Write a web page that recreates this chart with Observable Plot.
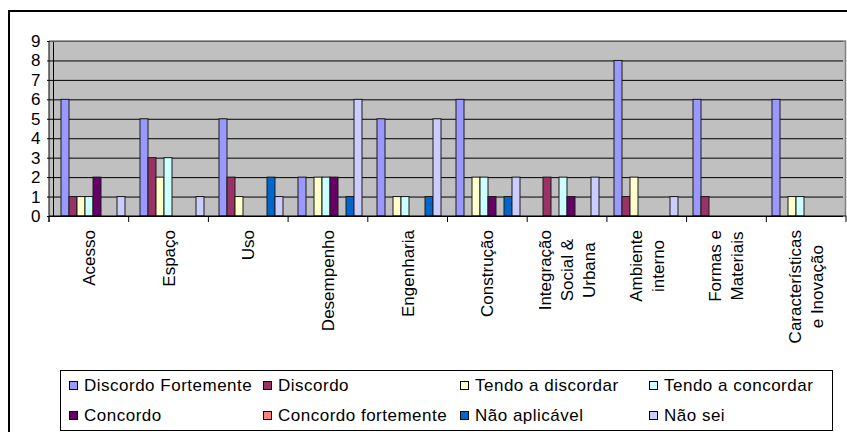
<!DOCTYPE html>
<html><head><meta charset="utf-8">
<script src="https://cdn.jsdelivr.net/npm/d3@7"></script>
<script src="https://cdn.jsdelivr.net/npm/@observablehq/plot@0.6"></script>
<style>
body{margin:0;background:#fff;}
#wrap{position:relative;width:847px;height:432px;overflow:hidden;background:#fff;font-family:"Liberation Sans",Arial,sans-serif;}
#frame{position:absolute;left:8px;top:10px;width:900px;height:500px;border:2px solid #000;box-sizing:border-box;}
#chart{position:absolute;left:0;top:0;}
#legend{position:absolute;left:60px;top:370px;width:773px;height:61px;border:1px solid #000;box-sizing:border-box;background:#fff;}
.item{position:absolute;font-size:17px;line-height:20px;letter-spacing:0.5px;white-space:nowrap;color:#000;}
.sw{display:inline-block;width:7px;height:7px;border:1px solid #000;margin-right:6px;vertical-align:1px;}
</style>
</head><body>
<div id="wrap"><div id="frame"></div><div id="chart"></div><div id="legend"></div></div>
<script>
const categories = ["Acesso","Espaço","Uso","Desempenho","Engenharia","Construção","Integração\nSocial &\nUrbana","Ambiente\ninterno","Formas e\nMateriais","Características\ne Inovação"];
const series = ["Discordo Fortemente","Discordo","Tendo a discordar","Tendo a concordar","Concordo","Concordo fortemente","Não aplicável","Não sei"];
const discordoFortemente  = [6,5,5,2,5,6,0,8,6,6];
const discordo            = [1,3,2,0,0,0,2,1,1,0];
const tendoADiscordar     = [1,2,1,2,1,2,0,2,0,1];
const tendoAConcordar     = [1,3,0,2,1,2,2,0,0,1];
const concordo            = [2,0,0,2,0,1,1,0,0,0];
const concordoFortemente  = [0,0,0,0,0,0,0,0,0,0];
const naoAplicavel        = [0,0,2,1,1,1,0,0,0,0];
const naoSei              = [1,1,1,6,5,2,2,1,0,0];
const yTicks = [0,1,2,3,4,5,6,7,8,9];
const colors = ["#9999FF","#993366","#FFFFCC","#CCFFFF","#660066","#FF8080","#0066CC","#CCCCFF"];

const seriesValues = [discordoFortemente,discordo,tendoADiscordar,tendoAConcordar,concordo,concordoFortemente,naoAplicavel,naoSei];
const rows = [];
categories.forEach((c,i)=>series.forEach((s,j)=>rows.push({category:c, series:s, value:seriesValues[j][i]})));

const W = 847, H = 365, AXIS_Y = 216;
const chart = Plot.plot({
  width: W, height: H,
  marginLeft: 49, marginRight: 1, marginTop: 41, marginBottom: H - AXIS_Y,
  style: {fontFamily: "Liberation Sans, Arial, sans-serif", fontSize: "17px", color: "#000", background: "transparent", overflow: "visible"},
  fx: {domain: categories, paddingInner: 0, paddingOuter: 0, axis: null, label: null},
  x: {domain: series, paddingInner: 0, paddingOuter: 0.8, axis: null},
  y: {domain: [0, 9], ticks: yTicks, tickSize: 6, tickPadding: 7, label: null, line: true},
  color: {domain: series, range: colors},
  marks: [
    Plot.ruleY(yTicks, {stroke: "#000", strokeWidth: 1}),
    Plot.barY(rows.filter(d => d.value > 0), {fx: "category", x: "series", y: "value", fill: "series", stroke: "#1a1a1a", strokeWidth: 1})
  ]
});
document.getElementById("chart").appendChild(chart);

// scales from the plot
const fxD = chart.scale("fx"), yD = chart.scale("y");
const fx = d3.scaleBand().domain(fxD.domain).range(fxD.range).paddingInner(fxD.paddingInner ?? 0).paddingOuter(fxD.paddingOuter ?? 0).align(fxD.align ?? 0.5);
const y = d3.scaleLinear().domain(yD.domain).range(yD.range);
const svg = d3.select(chart);
const x0 = fx.range()[0], x1 = fx.range()[1], yTop = y(9), yBot = y(0);

// plot-area background
svg.insert("rect", ":first-child").attr("x", x0).attr("y", yTop).attr("width", x1 - x0).attr("height", yBot - yTop).attr("fill", "#C0C0C0");
// plot-area border (top & right)
svg.append("path").attr("d", `M${x0},${yTop}H${x1 - 0.5}V${yBot}`).attr("fill", "none").attr("stroke", "#808080").attr("stroke-width", 1.5);
// axis lines
svg.append("line").attr("x1", x0).attr("x2", x0).attr("y1", yTop).attr("y2", yBot + 6).attr("stroke", "#000");
svg.append("line").attr("x1", x0).attr("x2", x1).attr("y1", yBot).attr("y2", yBot).attr("stroke", "#000");
// category boundary ticks
const edges = categories.map(c => fx(c)).concat([x1]);
svg.append("g").selectAll("line").data(edges).join("line")
  .attr("x1", d => d).attr("x2", d => d).attr("y1", yBot).attr("y2", yBot + 6).attr("stroke", "#000");
// category labels (rotated, lines centred within block)
const lg = svg.append("g").attr("font-family", "Liberation Sans, Arial, sans-serif").attr("font-size", 17).attr("fill", "#000");
categories.forEach(c => {
  const lines = c.split("\n");
  const cx = fx(c) + fx.bandwidth() / 2;
  const t = lg.append("text").attr("transform", `translate(${cx},${yBot + 14}) rotate(-90)`).attr("text-anchor", "middle");
  const spans = lines.map((ln, i) => t.append("tspan").text(ln).attr("y", (i - (lines.length - 1) / 2) * 22 + 6));
  const L = d3.max(spans, s => s.node().getComputedTextLength());
  spans.forEach(s => s.attr("x", -L / 2));
});

// legend
const legendPos = [[8,5],[202,5],[399,5],[588,5],[8,35],[202,35],[399,35],[588,35]];
const leg = document.getElementById("legend");
series.forEach((s, i) => {
  const d = document.createElement("div");
  d.className = "item";
  d.style.left = legendPos[i][0] + "px";
  d.style.top = legendPos[i][1] + "px";
  d.innerHTML = `<span class="sw" style="background:${colors[i]}"></span>${s}`;
  leg.appendChild(d);
});
</script>
</body></html>
